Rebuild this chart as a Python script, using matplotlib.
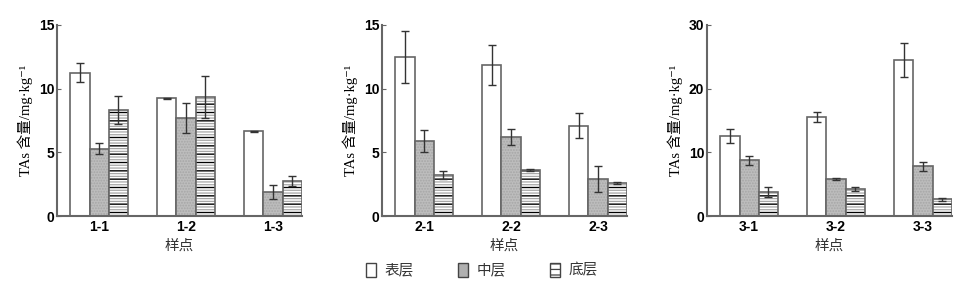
import numpy as np
import matplotlib
matplotlib.use("Agg")
import matplotlib.pyplot as plt
from matplotlib.patches import Patch

plt.rcParams['hatch.linewidth'] = 0.9

layers = ['表层', '中层', '底层']

sites_1 = ['1-1', '1-2', '1-3']
surface_1 = [11.25, 9.25, 6.65]
surface_err_1 = [0.75, 0.03, 0.03]
middle_1 = [5.3, 7.7, 1.85]
middle_err_1 = [0.45, 1.2, 0.55]
bottom_1 = [8.3, 9.35, 2.75]
bottom_err_1 = [1.1, 1.65, 0.37]

sites_2 = ['2-1', '2-2', '2-3']
surface_2 = [12.5, 11.85, 7.1]
surface_err_2 = [2.05, 1.55, 0.95]
middle_2 = [5.9, 6.2, 2.9]
middle_err_2 = [0.85, 0.6, 1.0]
bottom_2 = [3.2, 3.6, 2.6]
bottom_err_2 = [0.3, 0.08, 0.08]

sites_3 = ['3-1', '3-2', '3-3']
surface_3 = [12.5, 15.6, 24.5]
surface_err_3 = [1.1, 0.8, 2.6]
middle_3 = [8.75, 5.8, 7.8]
middle_err_3 = [0.75, 0.2, 0.75]
bottom_3 = [3.8, 4.2, 2.6]
bottom_err_3 = [0.8, 0.3, 0.25]

panels = [
    (sites_1, [surface_1, middle_1, bottom_1], [surface_err_1, middle_err_1, bottom_err_1], 15, [0, 5, 10, 15]),
    (sites_2, [surface_2, middle_2, bottom_2], [surface_err_2, middle_err_2, bottom_err_2], 15, [0, 5, 10, 15]),
    (sites_3, [surface_3, middle_3, bottom_3], [surface_err_3, middle_err_3, bottom_err_3], 30, [0, 10, 20, 30]),
]

# fill, hatch colour, hatch per layer
styles = [
    ('white', 'white', None),
    ('#bdbdbd', '#a6a6a6', '......'),
    ('white', '#a8a8a8', '------'),
]

cjk = ['Noto Sans CJK SC', 'DejaVu Sans']
serif_cjk = ['Liberation Serif', 'Noto Sans CJK SC', 'DejaVu Sans']

fig = plt.figure(figsize=(9.7, 2.86), dpi=100)
lefts = [57 / 970, 382 / 970, 707 / 970]
width = 0.222

for (sites, values, errs, ymax, yticks), left in zip(panels, lefts):
    ax = fig.add_axes([left, 70 / 286, 245 / 970, 191 / 286])
    x = np.arange(len(sites))
    for i, (vals, err) in enumerate(zip(values, errs)):
        fc, hc, hatch = styles[i]
        pos = x + (i - 1) * width
        ax.bar(pos, vals, width, color=fc, edgecolor=hc, hatch=hatch, linewidth=0)
        if i == 2:
            ax.bar(pos, vals, width, color='none', edgecolor='black', hatch='--', linewidth=0)
        ax.bar(pos, vals, width, color='none', edgecolor='#666666', linewidth=1.2)
        ax.errorbar(pos, vals, yerr=err, fmt='none', ecolor='#333333',
                    elinewidth=1, capsize=3, capthick=1)
    ax.set_xlim(-0.485, 2.333)
    ax.set_ylim(0, ymax)
    ax.set_yticks(yticks)
    ax.set_xticks(x)
    ax.set_xticklabels(sites, fontsize=10, fontweight='bold', family='Liberation Sans')
    for lab in ax.get_yticklabels():
        lab.set_fontsize(10)
        lab.set_fontweight('bold')
        lab.set_family('Liberation Sans')
    ax.tick_params(axis='y', direction='in', length=3, color='#666666', pad=2)
    ax.tick_params(axis='x', length=0, pad=3)
    for s in ['top', 'right']:
        ax.spines[s].set_visible(False)
    for s in ['left', 'bottom']:
        ax.spines[s].set_color('#666666')
        ax.spines[s].set_linewidth(1.5)
    ax.set_xlabel('样点', family=cjk, fontsize=10.5, color='#333333', labelpad=3)
    ax.set_ylabel('TAs 含量/mg·kg⁻¹', family=serif_cjk, fontsize=10.5, labelpad=4)

handles = []
for fc, hc, hatch in styles:
    handles.append(Patch(facecolor=fc if hatch != '......' else '#b0b0b0', edgecolor='#444444',
                         hatch='---' if hatch == '------' else None, linewidth=1))
leg = fig.legend(handles, layers, loc='center', bbox_to_anchor=(482 / 970, 1 - 270 / 286),
                 ncol=3, frameon=False, prop={'family': cjk, 'size': 10.5},
                 handlelength=0.7, handleheight=1.1, columnspacing=3.0, handletextpad=0.6)
for t in leg.get_texts():
    t.set_color('#333333')

fig.savefig('out.png', dpi=100)
